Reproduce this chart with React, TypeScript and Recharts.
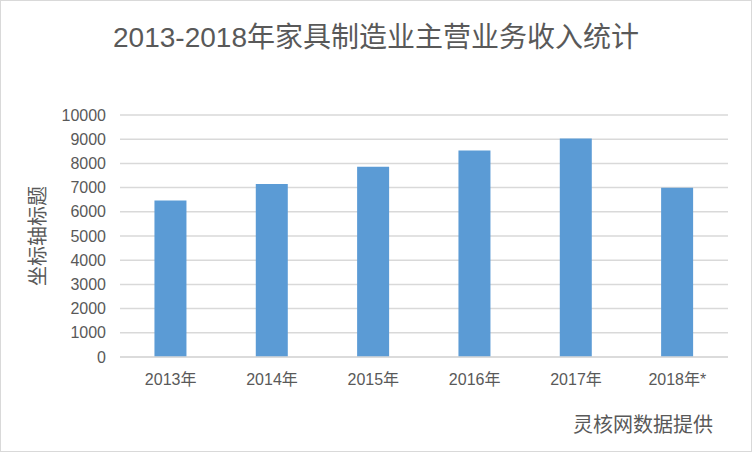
import { BarChart, Bar, XAxis, YAxis, CartesianGrid, Label } from "recharts";

const years = ["2013年", "2014年", "2015年", "2016年", "2017年", "2018年*"];
const revenue = [6470, 7150, 7860, 8530, 9030, 6990];
const yTicks = [0, 1000, 2000, 3000, 4000, 5000, 6000, 7000, 8000, 9000, 10000];

const font = '"Liberation Sans", "Noto Sans CJK SC", sans-serif';
const grey = "#595959";

export default function App() {
  const data = years.map((year, i) => ({ year, value: revenue[i] }));
  return (
    <div
      style={{
        position: "fixed",
        left: 0,
        top: 0,
        width: 752,
        height: 452,
        boxSizing: "border-box",
        border: "1px solid #d9d9d9",
        background: "#fff",
        fontFamily: font,
      }}
    >
      <div
        style={{
          position: "absolute",
          top: 19,
          left: 0,
          width: 750,
          textAlign: "center",
          fontSize: 28,
          color: grey,
          lineHeight: "36px",
        }}
      >
        2013-2018年家具制造业主营业务收入统计
      </div>
      <div
        style={{
          position: "absolute",
          top: 411,
          right: 38,
          fontSize: 20,
          color: grey,
          lineHeight: "26px",
        }}
      >
        灵核网数据提供
      </div>
      <div style={{ position: "absolute", left: -1, top: -1 }}>
        <BarChart
          width={752}
          height={452}
          data={data}
          margin={{ top: 115, right: 24, bottom: 65, left: 60 }}
          barCategoryGap="34%"
        >
          <CartesianGrid vertical={false} stroke="#d9d9d9" strokeWidth={1.5} />
          <XAxis
            dataKey="year"
            height={30}
            tickLine={false}
            axisLine={{ stroke: "#d9d9d9", strokeWidth: 1.5 }}
            tick={{ fill: grey, fontSize: 16, fontFamily: font }}
            tickMargin={11}
            interval={0}
          />
          <YAxis
            width={60}
            domain={[0, 10000]}
            ticks={yTicks}
            interval={0}
            axisLine={false}
            tickLine={false}
            tickMargin={8}
            tick={{ fill: grey, fontSize: 16, fontFamily: font }}
          >
            <Label
              value="坐标轴标题"
              angle={-90}
              position="insideLeft"
              offset={0}
              style={{ fill: grey, fontSize: 20, fontFamily: font, textAnchor: "middle" }}
              dx={-22}
            />
          </YAxis>
          <Bar dataKey="value" fill="#5b9bd5" isAnimationActive={false} />
        </BarChart>
      </div>
    </div>
  );
}
